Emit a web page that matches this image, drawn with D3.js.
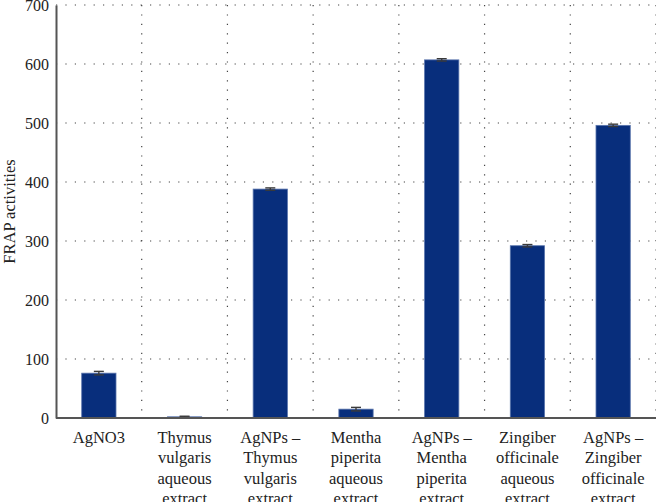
<!DOCTYPE html>
<html>
<head>
<meta charset="utf-8">
<script src="https://cdn.jsdelivr.net/npm/d3@7"></script>
<style>
  body { margin: 0; background: #fff; }
  svg { display: block; }
</style>
</head>
<body>
<div id="chart"></div>
<script>
// data
const categories = [
  ['AgNO3'],
  ['Thymus', 'vulgaris', 'aqueous', 'extract'],
  ['AgNPs –', 'Thymus', 'vulgaris', 'extract'],
  ['Mentha', 'piperita', 'aqueous', 'extract'],
  ['AgNPs –', 'Mentha', 'piperita', 'extract'],
  ['Zingiber', 'officinale', 'aqueous', 'extract'],
  ['AgNPs –', 'Zingiber', 'officinale', 'extract']
];
const values = [76, 2, 388, 15, 607, 292, 496];
const errors = [3, 1, 2, 3, 2, 2, 2];
const yTicks = [0, 100, 200, 300, 400, 500, 600, 700];

const width = 656, height = 502;
const margin = { top: 5, right: 0, bottom: 84, left: 56 };

const svg = d3.select('#chart').append('svg')
  .attr('width', width)
  .attr('height', height);

const x = d3.scaleBand()
  .domain(d3.range(categories.length))
  .range([margin.left, width - margin.right])
  .paddingInner(0)
  .paddingOuter(0);

const y = d3.scaleLinear()
  .domain([0, 700])
  .range([height - margin.bottom, margin.top]);

const font = '"Liberation Serif", "DejaVu Serif", serif';

// grid, dotted
const grid = svg.append('g');
grid.selectAll('.hg').data(yTicks.slice(1))
  .enter().append('line')
  .attr('x1', margin.left).attr('x2', width)
  .attr('y1', d => y(d)).attr('y2', d => y(d))
  .attr('stroke', '#444').attr('stroke-width', 1.2)
  .attr('stroke-dasharray', '1.2,8.2');
grid.selectAll('.vg').data(d3.range(1, categories.length + 1))
  .enter().append('line')
  .attr('x1', d => x.step() * d + margin.left).attr('x2', d => x.step() * d + margin.left)
  .attr('y1', y(700)).attr('y2', y(0))
  .attr('stroke', '#444').attr('stroke-width', 1.2)
  .attr('stroke-dasharray', '1.2,8.2');

// bars
const bw = x.bandwidth() * 0.4;
svg.append('g').selectAll('rect').data(values)
  .enter().append('rect')
  .attr('x', (d, i) => x(i) + (x.bandwidth() - bw) / 2)
  .attr('y', d => y(d))
  .attr('width', bw)
  .attr('height', d => y(0) - y(d))
  .attr('fill', '#082e7c')
  .attr('stroke', '#5a75ad')
  .attr('stroke-width', 0.8);

// error bars
const eb = svg.append('g').attr('stroke', '#3a3a3a').attr('stroke-width', 1.4);
values.forEach((v, i) => {
  const cx = x(i) + x.bandwidth() / 2;
  eb.append('line').attr('x1', cx).attr('x2', cx).attr('y1', y(v - errors[i])).attr('y2', y(v + errors[i]));
  eb.append('line').attr('x1', cx - 5).attr('x2', cx + 5).attr('y1', y(v + errors[i])).attr('y2', y(v + errors[i]));
  eb.append('line').attr('x1', cx - 5).attr('x2', cx + 5).attr('y1', y(v - errors[i])).attr('y2', y(v - errors[i]));
});

// axes
const yAxis = svg.append('g')
  .attr('transform', `translate(${margin.left},0)`)
  .call(d3.axisLeft(y).tickValues(yTicks).tickSize(0).tickPadding(7));
yAxis.select('.domain').attr('stroke', '#555').attr('stroke-width', 2);
yAxis.selectAll('text').attr('font-family', font).attr('font-size', 16).attr('fill', '#222');

svg.append('line')
  .attr('x1', margin.left).attr('x2', width)
  .attr('y1', y(0)).attr('y2', y(0))
  .attr('stroke', '#555').attr('stroke-width', 2);

const xl = svg.append('g').selectAll('text').data(categories)
  .enter().append('text')
  .attr('text-anchor', 'middle')
  .attr('font-family', font)
  .attr('font-size', 16.5)
  .attr('fill', '#222')
  .attr('transform', (d, i) => `translate(${x(i) + x.bandwidth() / 2},${y(0) + 25})`);
xl.selectAll('tspan').data(d => d)
  .enter().append('tspan')
  .attr('x', 0)
  .attr('y', (d, j) => j * 20.3)
  .text(d => d);

svg.append('text')
  .attr('transform', `translate(15,${(y(0) + y(700)) / 2}) rotate(-90)`)
  .attr('text-anchor', 'middle')
  .attr('font-family', font)
  .attr('font-size', 16.5)
  .attr('fill', '#222')
  .text('FRAP activities');
</script>
</body>
</html>
